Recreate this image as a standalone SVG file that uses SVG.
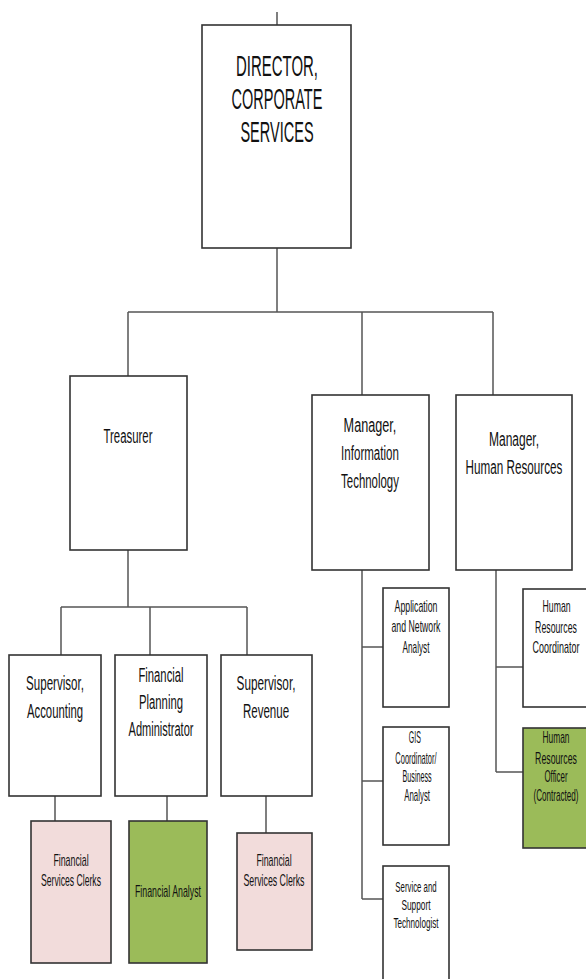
<svg xmlns="http://www.w3.org/2000/svg" width="586" height="979" viewBox="0 0 586 979">
<style>
.box{fill:#fff;stroke:#333;stroke-width:1.6}
.pink{fill:#f2dcdb;stroke:#333;stroke-width:1.6}
.green{fill:#9bbb59;stroke:#333;stroke-width:1.6}
.ln{fill:none;stroke:#555;stroke-width:1.5}
text{font-family:"Liberation Sans",Arial,sans-serif;fill:#111;text-anchor:middle}
.t29{font-size:29px}
.t21{font-size:21px}
.t20{font-size:20px}
.t16{font-size:16px}
.t15{font-size:15px}
</style>
<rect width="586" height="979" fill="#fff"/>
<g id="connectors">
<path class="ln" d="M277,12V25"/>
<path class="ln" d="M277,248V312M128,312H493M128,312V376M362,312V395M493,312V395"/>
<path class="ln" d="M128,550V607M61,607H247M61,607V655M150,607V655M247,607V655"/>
<path class="ln" d="M55,796V821M167,796V821M266,796V833"/>
<path class="ln" d="M362,570V899M362,647H383M362,781H383M362,899H383"/>
<path class="ln" d="M496,570V772M496,667H523M496,772H523"/>
</g>
<g id="director">
<rect class="box" x="202" y="25" width="149" height="223"/>
<g transform="matrix(0.55 0 0 1 124.65 0)">
<text class="t29" x="277" y="76" textLength="149" lengthAdjust="spacingAndGlyphs">DIRECTOR,</text>
<text class="t29" x="277" y="109" textLength="165" lengthAdjust="spacingAndGlyphs">CORPORATE</text>
<text class="t29" x="277" y="142" textLength="133" lengthAdjust="spacingAndGlyphs">SERVICES</text>
</g>
</g>
<g id="treasurer">
<rect class="box" x="70" y="376" width="117" height="174"/>
<g transform="matrix(0.55 0 0 1 57.6 0)">
<text class="t21" x="128" y="443" textLength="89" lengthAdjust="spacingAndGlyphs">Treasurer</text>
</g>
</g>
<g id="manager-it">
<rect class="box" x="312" y="395" width="117" height="175"/>
<g transform="matrix(0.55 0 0 1 166.5 0)">
<text class="t21" x="370" y="432" textLength="96" lengthAdjust="spacingAndGlyphs">Manager,</text>
<text class="t21" x="370" y="460" textLength="105" lengthAdjust="spacingAndGlyphs">Information</text>
<text class="t21" x="370" y="488" textLength="105" lengthAdjust="spacingAndGlyphs">Technology</text>
</g>
</g>
<g id="manager-hr">
<rect class="box" x="456" y="395" width="116" height="175"/>
<g transform="matrix(0.55 0 0 1 231.3 0)">
<text class="t21" x="514" y="446" textLength="91" lengthAdjust="spacingAndGlyphs">Manager,</text>
<text class="t21" x="514" y="474" textLength="176" lengthAdjust="spacingAndGlyphs">Human Resources</text>
</g>
</g>
<g id="supervisor-accounting">
<rect class="box" x="9" y="655" width="92" height="141"/>
<g transform="matrix(0.55 0 0 1 24.75 0)">
<text class="t21" x="55" y="690" textLength="105" lengthAdjust="spacingAndGlyphs">Supervisor,</text>
<text class="t21" x="55" y="718" textLength="102" lengthAdjust="spacingAndGlyphs">Accounting</text>
</g>
</g>
<g id="financial-planning-administrator">
<rect class="box" x="115" y="655" width="92" height="141"/>
<g transform="matrix(0.55 0 0 1 72.45 0)">
<text class="t20" x="161" y="682" textLength="82" lengthAdjust="spacingAndGlyphs">Financial</text>
<text class="t20" x="161" y="709" textLength="80" lengthAdjust="spacingAndGlyphs">Planning</text>
<text class="t20" x="161" y="736" textLength="118" lengthAdjust="spacingAndGlyphs">Administrator</text>
</g>
</g>
<g id="supervisor-revenue">
<rect class="box" x="221" y="655" width="91" height="141"/>
<g transform="matrix(0.55 0 0 1 119.7 0)">
<text class="t21" x="266" y="690" textLength="107" lengthAdjust="spacingAndGlyphs">Supervisor,</text>
<text class="t21" x="266" y="718" textLength="84" lengthAdjust="spacingAndGlyphs">Revenue</text>
</g>
</g>
<g id="fsc-accounting">
<rect class="pink" x="31" y="821" width="80" height="142"/>
<g transform="matrix(0.55 0 0 1 31.95 0)">
<text class="t16" x="71" y="866" textLength="64" lengthAdjust="spacingAndGlyphs">Financial</text>
<text class="t16" x="71" y="886" textLength="109" lengthAdjust="spacingAndGlyphs">Services Clerks</text>
</g>
</g>
<g id="financial-analyst">
<rect class="green" x="129" y="821" width="78" height="142"/>
<g transform="matrix(0.55 0 0 1 75.6 0)">
<text class="t16" x="168" y="897" textLength="120" lengthAdjust="spacingAndGlyphs">Financial Analyst</text>
</g>
</g>
<g id="fsc-revenue">
<rect class="pink" x="237" y="833" width="75" height="117"/>
<g transform="matrix(0.55 0 0 1 123.3 0)">
<text class="t16" x="274" y="866" textLength="64" lengthAdjust="spacingAndGlyphs">Financial</text>
<text class="t16" x="274" y="886" textLength="111" lengthAdjust="spacingAndGlyphs">Services Clerks</text>
</g>
</g>
<g id="app-network-analyst">
<rect class="box" x="383" y="588" width="66" height="119"/>
<g transform="matrix(0.55 0 0 1 187.2 0)">
<text class="t16" x="416" y="612" textLength="78" lengthAdjust="spacingAndGlyphs">Application</text>
<text class="t16" x="416" y="632" textLength="89" lengthAdjust="spacingAndGlyphs">and Network</text>
<text class="t16" x="416" y="653" textLength="49" lengthAdjust="spacingAndGlyphs">Analyst</text>
</g>
</g>
<g id="gis-coordinator">
<rect class="box" x="383" y="727" width="66" height="118"/>
<g transform="matrix(0.55 0 0 1 187.2 0)">
<text class="t16" x="414" y="743" textLength="22" lengthAdjust="spacingAndGlyphs">GIS</text>
<text class="t16" x="416" y="764" textLength="75" lengthAdjust="spacingAndGlyphs">Coordinator/</text>
<text class="t16" x="418" y="782" textLength="53" lengthAdjust="spacingAndGlyphs">Business</text>
<text class="t16" x="418" y="801" textLength="47" lengthAdjust="spacingAndGlyphs">Analyst</text>
</g>
</g>
<g id="service-support">
<rect class="box" x="383" y="866" width="66" height="130"/>
<g transform="matrix(0.55 0 0 1 187.2 0)">
<text class="t15" x="416" y="892" textLength="75" lengthAdjust="spacingAndGlyphs">Service and</text>
<text class="t15" x="416" y="910" textLength="53" lengthAdjust="spacingAndGlyphs">Support</text>
<text class="t15" x="416" y="928" textLength="82" lengthAdjust="spacingAndGlyphs">Technologist</text>
</g>
</g>
<g id="hr-coordinator">
<rect class="box" x="523" y="589" width="66" height="118"/>
<g transform="matrix(0.55 0 0 1 250.2 0)">
<text class="t16" x="557" y="612" textLength="51" lengthAdjust="spacingAndGlyphs">Human</text>
<text class="t16" x="556" y="633" textLength="76" lengthAdjust="spacingAndGlyphs">Resources</text>
<text class="t16" x="556" y="653" textLength="85" lengthAdjust="spacingAndGlyphs">Coordinator</text>
</g>
</g>
<g id="hr-officer">
<rect class="green" x="523" y="728" width="66" height="120"/>
<g transform="matrix(0.55 0 0 1 250.2 0)">
<text class="t16" x="556" y="743" textLength="49" lengthAdjust="spacingAndGlyphs">Human</text>
<text class="t16" x="556" y="764" textLength="76" lengthAdjust="spacingAndGlyphs">Resources</text>
<text class="t16" x="556" y="782" textLength="42" lengthAdjust="spacingAndGlyphs">Officer</text>
<text class="t16" x="556" y="801" textLength="82" lengthAdjust="spacingAndGlyphs">(Contracted)</text>
</g>
</g>
</svg>
